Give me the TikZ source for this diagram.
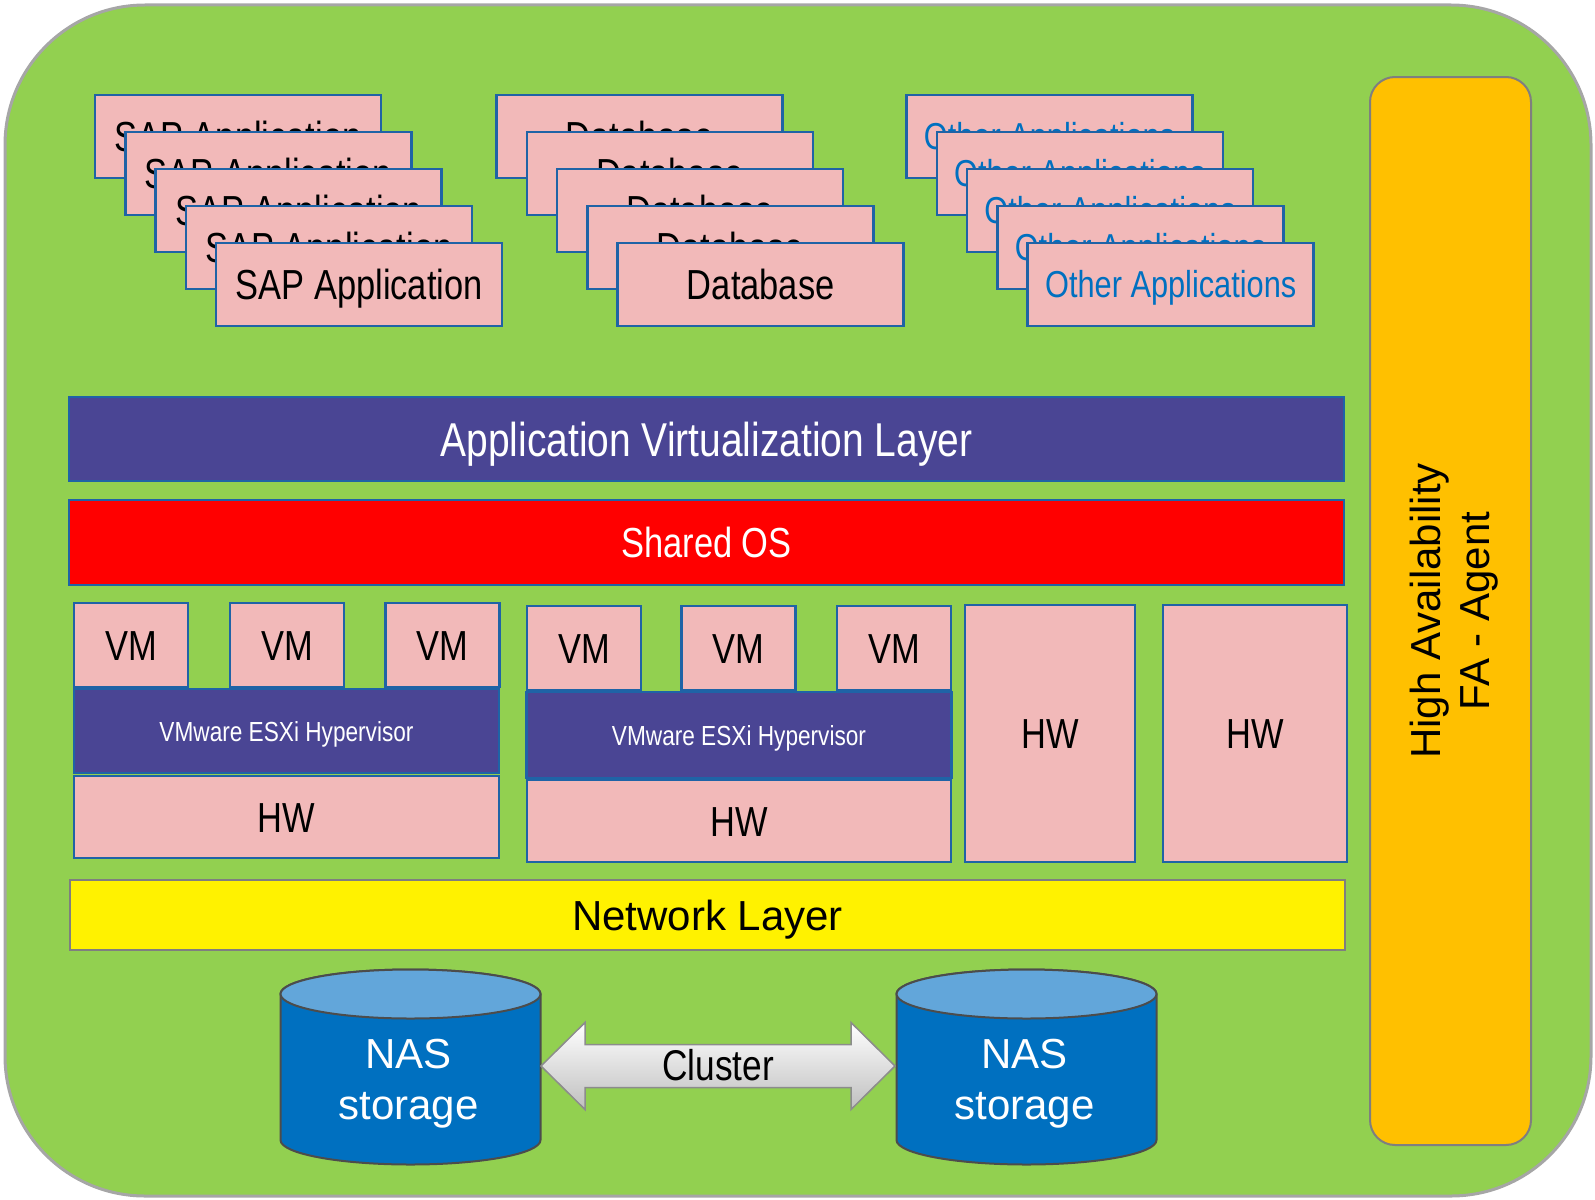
\documentclass[tikz,border=0pt]{standalone}
\usepackage{fontspec}
\setmainfont{Liberation Sans}
\newfontfamily\narrowfont[FakeStretch=0.82]{Liberation Sans}
\usetikzlibrary{calc}

\definecolor{bggreen}{HTML}{92D050}
\definecolor{pinkbox}{HTML}{F2B9B9}
\definecolor{boxblue}{HTML}{1F63A6}
\definecolor{layerpurple}{HTML}{4A4594}
\definecolor{haorange}{HTML}{FFC000}
\definecolor{nasblue}{HTML}{0070C0}
\definecolor{nastop}{HTML}{62A6DA}
\definecolor{textblue}{HTML}{0070C0}
\definecolor{edgegray}{HTML}{7F7F7F}

\tikzset{
  box/.style={draw=boxblue, line width=2.5pt, fill=pinkbox, inner sep=0pt,
    text height=30pt, text depth=0pt, font=\narrowfont\fontsize{42}{48}\selectfont},
  appbox/.style={box, minimum width=286pt, minimum height=83pt},
  vmbox/.style={box, minimum width=114pt, minimum height=84pt},
  layer/.style={box, minimum width=1275pt, text=white},
  hyper/.style={box, fill=layerpurple, text=white, minimum width=425pt,
    text height=20pt, font=\narrowfont\fontsize{27.6}{32}\selectfont},
  nastext/.style={text=white, align=center, inner sep=0pt,
    font=\fontsize{42}{51}\selectfont}
}

\begin{document}
\begin{tikzpicture}[x=1pt,y=-1pt]
\useasboundingbox (0,0) rectangle (1595,1199);
% green background
\draw[fill=bggreen, draw=gray!70, line width=3pt, rounded corners=140pt] (5,5) rectangle (1591,1196);

% application stacks
\foreach \i in {0,...,4}
  \node[appbox] (sap\i) at (238+30.3*\i, 136.5+37*\i) {SAP Application};
\foreach \i in {0,...,4}
  \node[appbox] (db\i) at (639.5+30.3*\i, 136.5+37*\i) {Database};
\foreach \i in {0,...,4}
  \node[appbox, text=textblue, text height=26.5pt,
    font=\narrowfont\fontsize{37.5}{44}\selectfont] (oth\i) at (1049.5+30.3*\i, 136.5+37*\i) {Other Applications};

% layers
\node[layer, fill=layerpurple, minimum height=84pt, text height=34pt,
  font=\narrowfont\fontsize{47.5}{54}\selectfont] (avl) at (706.5,439) {Application Virtualization Layer};
\node[layer, fill=red, minimum height=85pt] (sos) at (706.5,542.5) {Shared OS};

% host 1
\foreach \x [count=\n] in {131,287,442.5}
  \node[vmbox] (vmA\n) at (\x,645) {VM};
\node[hyper, minimum height=84pt] (hypA) at (286.5,731) {VMware ESXi Hypervisor};
\node[box, minimum width=425pt, minimum height=82pt] (hwA) at (286.5,817) {HW};

% host 2
\foreach \x [count=\n] in {584,738.5,894}
  \node[vmbox] (vmB\n) at (\x,648) {VM};
\node[hyper, minimum height=86pt] (hypB) at (739,735) {VMware ESXi Hypervisor};
\node[box, minimum width=424pt, minimum height=82pt] (hwB) at (739,821) {HW};

% bare hardware
\node[box, minimum width=170pt, minimum height=257pt] (hwC) at (1050,733.5) {HW};
\node[box, minimum width=184pt, minimum height=257pt] (hwD) at (1255,733.5) {HW};

% network
\node[draw=edgegray, line width=2pt, fill=yellow, inner sep=0pt,
  minimum width=1275pt, minimum height=70pt, text height=30pt, text depth=0pt,
  font=\fontsize{42}{48}\selectfont] (net) at (707.5,915) {Network Layer};

% high availability
\node[draw=edgegray, line width=2pt, fill=haorange, rounded corners=25pt, rotate=90,
  minimum width=1068pt, minimum height=161pt, align=center, text height=86pt,
  font=\fontsize{42}{49}\selectfont] (ha) at (1450.5,611) {High Availability\\FA - Agent};

% storage
\foreach \cx/\nm in {410.5/nasA,1026.5/nasB}{
  \filldraw[fill=nasblue, draw=black!70, line width=2pt]
    (\cx-130,994) -- (\cx-130,1140)
    arc[start angle=180, end angle=0, x radius=130, y radius=24.5]
    -- (\cx+130,994)
    arc[start angle=0, end angle=-180, x radius=130, y radius=24.5] -- cycle;
  \filldraw[fill=nastop, draw=black!70, line width=2pt]
    (\cx,994) ellipse [x radius=130, y radius=24.5];
  \node[nastext] (\nm) at (\cx-2,1084) {NAS\\storage};
}

% cluster arrow
\coordinate (clL) at ($(nasA)+(132.5,-18)$);
\coordinate (clR) at ($(nasB)+(-129.5,-18)$);
\draw[draw=black!45, line width=1.5pt, top color=white, bottom color=black!25]
  (clL) -- ++(44,-43.5) -- ++(0,22) -- ($(clR)+(-44,-21.5)$) -- ++(0,-22)
  -- (clR) -- ++(-44,43.5) -- ++(0,-22) -- ($(clL)+(44,21.5)$) -- ++(0,22) -- cycle;
\node[inner sep=0pt, text height=29pt, text depth=0pt,
  font=\narrowfont\fontsize{43}{48}\selectfont] (cl) at ($(clL)!0.5!(clR)$) {Cluster};
\end{tikzpicture}
\end{document}
